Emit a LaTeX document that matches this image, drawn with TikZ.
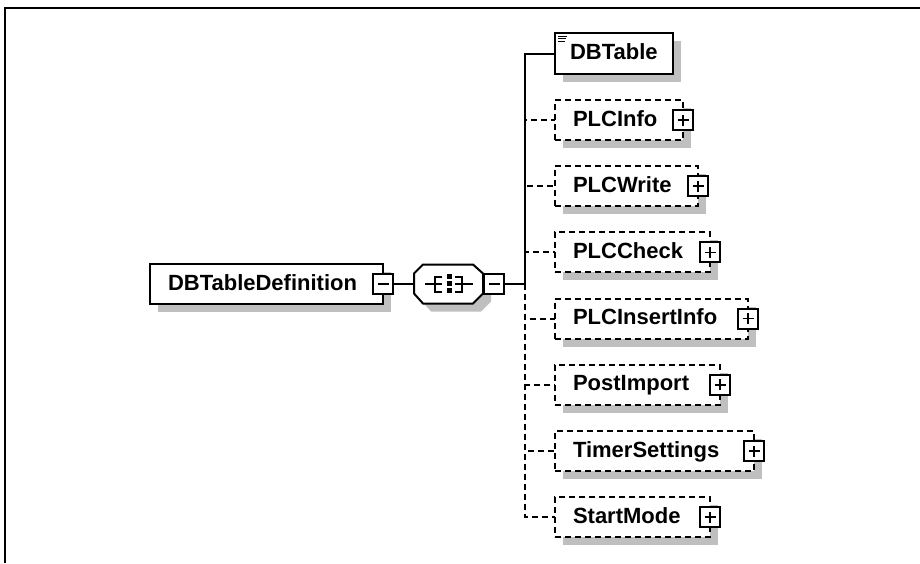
\documentclass[tikz,border=0pt]{standalone}
\usepackage{fontspec}
\setmainfont{Liberation Sans}
\usepackage{tikz}
\usetikzlibrary{shadows, positioning}

\begin{document}
\begin{tikzpicture}[x=1pt, y=-1pt, line width=2pt,
    shade8/.style={drop shadow={shadow xshift=8pt, shadow yshift=-8pt, fill=black!25, opacity=1}},
    elem/.style={draw, rectangle, fill=white, anchor=west, minimum height=40pt, inner xsep=18pt, inner ysep=0pt, outer sep=0pt, text height=16pt, text depth=4pt, align=left, font=\fontsize{22}{26}\selectfont\bfseries, shade8},
    optelem/.style={elem, dash pattern=on 6pt off 4pt},
    compositor/.style={rectangle, minimum width=69pt, minimum height=39pt, inner sep=0pt, outer sep=0pt},
    minus/.style={draw, rectangle, fill=white, minimum size=20pt, inner sep=0pt, path picture={
        \draw[line width=1.6pt] ([xshift=4.5pt]path picture bounding box.west) -- ([xshift=-4.5pt]path picture bounding box.east);}},
    plus/.style={draw, rectangle, fill=white, minimum size=20pt, inner sep=0pt, path picture={
        \draw[line width=1.6pt] ([xshift=4.5pt]path picture bounding box.west) -- ([xshift=-4.5pt]path picture bounding box.east);
        \draw[line width=1.6pt] ([yshift=4.5pt]path picture bounding box.south) -- ([yshift=-4.5pt]path picture bounding box.north);}},
    link/.style={line width=2pt},
    optlink/.style={link, dash pattern=on 6pt off 4pt}
]
    \useasboundingbox (0,0) rectangle (920,563);
    \draw[line width=2pt] (5,563) -- (5,8) -- (920,8);

    \node (defn) [elem, text width=197pt] at (150,284) {DBTableDefinition};
    \node (defnminus) [minus] at (defn.east) {};
    \node (seq) [compositor] at (448.5,284) {};
    \draw[fill=white, shade8] ([xshift=9pt]seq.north west) -- ([xshift=-10pt]seq.north east)
        -- ([yshift=-9pt]seq.north east) -- ([yshift=10pt]seq.south east)
        -- ([xshift=-10pt]seq.south east) -- ([xshift=9pt]seq.south west)
        -- ([yshift=10pt]seq.south west) -- ([yshift=-9pt]seq.north west) -- cycle;
    \node (seqminus) [minus, anchor=west] at (seq.east) {};

    \begin{scope}[shift={(seq.center)}, line width=1.4pt]
        \draw (-23.5,0) -- (-6.5,0);
        \draw (-6.5,-7) -- (-13.5,-7) -- (-13.5,8) -- (-6.5,8);
        \draw (6.5,0) -- (24.5,0);
        \draw (6.5,-7) -- (13.5,-7) -- (13.5,8) -- (6.5,8);
        \fill (-1.5,-10) rectangle (3.5,-5);
        \fill (-1.5,-3) rectangle (3.5,2);
        \fill (-1.5,4) rectangle (3.5,9);
    \end{scope}

    \node (dbtable) [elem, inner xsep=15pt, minimum height=41pt] at (555,53.5) {DBTable};
    \draw[line width=1pt] ([shift={(3,3)}]dbtable.north west) -- ++(9,0);
    \draw[line width=1pt] ([shift={(3,5.5)}]dbtable.north west) -- ++(8,0);
    \draw[line width=1pt] ([shift={(3,8)}]dbtable.north west) -- ++(7,0);

    \node (plcinfo) [optelem, text width=92pt, below=26pt of dbtable.south west, anchor=north west] {PLCInfo};
    \node (plcwrite) [optelem, text width=107pt, below=26.2pt of plcinfo.south west, anchor=north west] {PLCWrite};
    \node (plccheck) [optelem, text width=119pt, below=26.2pt of plcwrite.south west, anchor=north west] {PLCCheck};
    \node (plcinsert) [optelem, text width=157pt, below=26.2pt of plccheck.south west, anchor=north west] {PLCInsertInfo};
    \node (postimport) [optelem, text width=129pt, below=26.2pt of plcinsert.south west, anchor=north west] {PostImport};
    \node (timer) [optelem, text width=163pt, below=26.2pt of postimport.south west, anchor=north west] {TimerSettings};
    \node (startmode) [optelem, text width=119pt, below=26.2pt of timer.south west, anchor=north west] {StartMode};

    \foreach \c in {plcinfo, plcwrite, plccheck, plcinsert, postimport, timer, startmode}
        \node (\c plus) [plus] at (\c.east) {};

    \coordinate (trunk) at (525,284);
    \draw[link] (defnminus) -- (seq);
    \draw[link] (seqminus) -- (trunk) |- (dbtable);
    \foreach \c in {plcinfo, plcwrite, plccheck, plcinsert, postimport, timer, startmode}
        \draw[optlink] (trunk) |- (\c);
\end{tikzpicture}
\end{document}
